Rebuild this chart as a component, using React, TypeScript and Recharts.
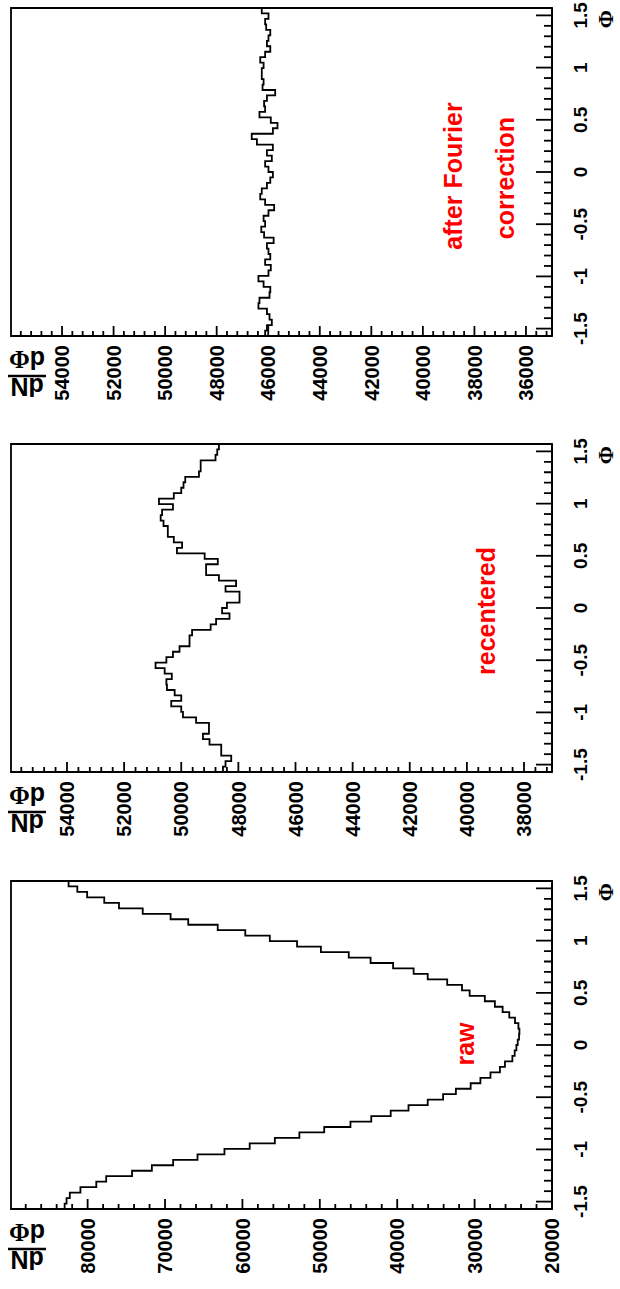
import React from 'react';
import { ComposedChart, Line, XAxis, YAxis, ReferenceArea } from 'recharts';

// 60 bins in phi from -pi/2 to pi/2
const rawCounts = [
  82970, 82720, 82300, 80930, 78880, 77600, 74260, 71700, 68950, 65800,
  62320, 59060, 55810, 52640, 49430, 46040, 43350, 40840, 38540, 36060,
  34070, 32420, 30510, 29250, 27950, 26730, 26080, 25120, 24820, 24600,
  24430, 24260, 24210, 24340, 24780, 25520, 26380, 27380, 28680, 30640,
  31630, 33540, 36060, 37880, 40530, 43440, 46260, 49860, 52940, 56460,
  59630, 63190, 67000, 69280, 72880, 75950, 77850, 80060, 81330, 82460,
];

const recenteredCounts = [
  48540, 48450, 48250, 48600, 48600, 49010, 49240, 49030, 49030, 49480,
  49940, 50000, 50350, 50000, 50230, 50500, 50520, 50330, 50580, 50900,
  50520, 50290, 50060, 49710, 49710, 49620, 48970, 48780, 48310, 48570,
  48400, 47960, 47960, 48450, 48080, 48680, 49130, 49130, 48720, 49180,
  50150, 49970, 50260, 50470, 50470, 50620, 50720, 50670, 50290, 50780,
  50260, 50000, 49920, 49860, 49380, 49320, 49320, 48800, 48740, 48680,
];

const fourierCounts = [
  46120, 46050, 45860, 45950, 46050, 46380, 46340, 45950, 45920, 46180,
  46380, 45990, 45900, 46120, 45920, 45990, 46050, 45790, 46160, 46270,
  46120, 46180, 45990, 45770, 46120, 46310, 46250, 46050, 45920, 45820,
  45990, 46120, 45860, 46050, 45820, 46440, 46640, 45820, 45640, 45900,
  46340, 46120, 46160, 46050, 45730, 46220, 46180, 46250, 46250, 46180,
  46310, 46120, 45920, 46050, 45990, 45920, 46080, 46120, 45990, 46250,
];

const phiMajor = [-1.5, -1, -0.5, 0, 0.5, 1, 1.5];
const rawMajor = [20000, 30000, 40000, 50000, 60000, 70000, 80000];
const recMajor = [38000, 40000, 42000, 44000, 46000, 48000, 50000, 52000, 54000];
const fouMajor = [36000, 38000, 40000, 42000, 44000, 46000, 48000, 50000, 52000, 54000];

const HALF_PI = Math.PI / 2;
const FONT = '"Liberation Sans", Arial, Helvetica, sans-serif';
const SERIF = '"Liberation Serif", "Times New Roman", serif';
const LW = 1.8;

// minor tick positions: 5 subdivisions between major ticks, kept inside the range
function subTicks(major: number[], lo: number, hi: number) {
  const step = (major[1] - major[0]) / 5;
  const out: number[] = [];
  const start = major[0] - Math.floor((major[0] - lo) / step) * step;
  for (let v = start; v <= hi + 1e-9; v += step) out.push(Math.round(v * 1000) / 1000);
  return out;
}

function histPoints(counts: number[]) {
  const w = Math.PI / counts.length;
  const pts = counts.map((n, i) => ({ phi: -HALF_PI + i * w, n }));
  pts.push({ phi: HALF_PI, n: counts[counts.length - 1] });
  return pts;
}

const isIn = (v: number, list: number[]) => list.some((m) => Math.abs(m - v) < 1e-6);

function PhiTick(props: any) {
  const { x, y, payload } = props;
  const v = payload.value;
  const major = isIn(v, phiMajor);
  return (
    <g>
      <line x1={x} x2={x} y1={y} y2={y - (major ? 16 : 8)} stroke="#000" strokeWidth={LW} />
      {major && (
        <text x={x} y={y + 35} textAnchor="middle" fontFamily={FONT} fontWeight="bold" fontSize={19} fill="#000">
          {String(v)}
        </text>
      )}
    </g>
  );
}

function makeCountTick(major: number[]) {
  return (props: any) => {
    const { x, y, payload } = props;
    const v = payload.value;
    const isMaj = isIn(v, major);
    return (
      <g>
        <line x1={x} x2={x + (isMaj ? 10 : 5)} y1={y} y2={y} stroke="#000" strokeWidth={LW} />
        {isMaj && (
          <text x={x - 9} y={y} dy="0.36em" textAnchor="end" fontFamily={FONT} fontWeight="bold" fontSize={20} fill="#000">
            {String(v)}
          </text>
        )}
      </g>
    );
  };
}

function Panel({ left, counts, domain, major }: { left: number; counts: number[]; domain: [number, number]; major: number[] }) {
  const data = histPoints(counts);
  const yTicks = subTicks(major, domain[0], domain[1]);
  const phiTicks = subTicks(phiMajor, -HALF_PI, HALF_PI);
  return (
    <div style={{ position: 'absolute', left, top: 0 }}>
      <ComposedChart width={430} height={620} data={data} margin={{ top: 11, right: 22, bottom: 0, left: 0 }}>
        <XAxis
          dataKey="phi"
          type="number"
          domain={[-HALF_PI, HALF_PI]}
          allowDataOverflow
          ticks={phiTicks}
          interval={0}
          tickSize={0}
          tickMargin={0}
          tickLine={false}
          tick={PhiTick}
          height={68}
          axisLine={{ stroke: '#000', strokeWidth: LW }}
        />
        <YAxis
          type="number"
          domain={domain}
          allowDataOverflow
          ticks={yTicks}
          interval={0}
          tickSize={0}
          tickMargin={0}
          tickLine={false}
          tick={makeCountTick(major)}
          width={80}
          axisLine={{ stroke: '#000', strokeWidth: LW }}
        />
        <ReferenceArea x1={-HALF_PI} x2={HALF_PI} y1={domain[0]} y2={domain[1]} fill="none" stroke="#000" strokeWidth={LW} />
        <Line type="stepAfter" dataKey="n" stroke="#000" strokeWidth={LW} dot={false} isAnimationActive={false} />
      </ComposedChart>
    </div>
  );
}

function YTitle({ u }: { u: number }) {
  return (
    <g transform={`translate(${u}, 27) rotate(-90)`} fontFamily={FONT} fontWeight="bold" fill="#000">
      <text x={0} y={-2} textAnchor="middle" fontSize={25}>dN</text>
      <line x1={-19} x2={19} y1={0} y2={0} stroke="#000" strokeWidth={2.5} />
      <text x={0} y={25} textAnchor="middle" fontSize={25}>
        d<tspan fontFamily={SERIF}>Φ</tspan>
      </text>
    </g>
  );
}

export default function App() {
  const panels = [
    { left: 0, counts: rawCounts, domain: [20000, 89900] as [number, number], major: rawMajor },
    { left: 437, counts: recenteredCounts, domain: [37020, 55960] as [number, number], major: recMajor },
    { left: 873, counts: fourierCounts, domain: [34990, 55980] as [number, number], major: fouMajor },
  ];
  return (
    <div style={{ position: 'absolute', left: 0, top: 0, width: 620, height: 1289, overflow: 'hidden', background: '#fff' }}>
      <div
        style={{
          position: 'absolute',
          left: 0,
          top: 0,
          width: 1289,
          height: 620,
          transformOrigin: '0 0',
          transform: 'translateY(1289px) rotate(-90deg)',
        }}
      >
        {panels.map((p, i) => (
          <Panel key={i} left={p.left} counts={p.counts} domain={p.domain} major={p.major} />
        ))}
        <svg width={1289} height={620} style={{ position: 'absolute', left: 0, top: 0, pointerEvents: 'none' }}>
          {panels.map((p, i) => (
            <g key={i}>
              <YTitle u={p.left + 40} />
              <text x={p.left + 406} y={613} textAnchor="end" fontFamily={SERIF} fontWeight="bold" fontSize={22} fill="#000">
                Φ
              </text>
            </g>
          ))}
          <g fontFamily={FONT} fontWeight="bold" fontSize={25} fill="#ff0000" textAnchor="middle">
            <text x={245} y={474}>raw</text>
            <text x={678} y={495}>recentered</text>
            <text x={1113} y={462}>after Fourier</text>
            <text x={1111} y={514}>correction</text>
          </g>
        </svg>
      </div>
    </div>
  );
}
